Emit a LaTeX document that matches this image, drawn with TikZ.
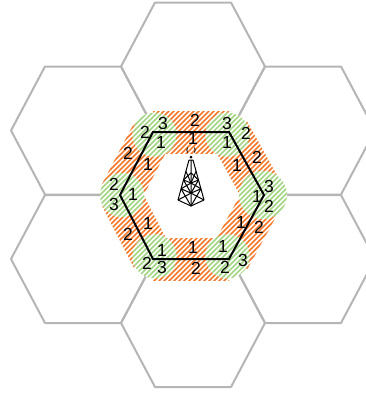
\documentclass[tikz,border=0pt]{standalone}
\usepackage{fontspec}
\usetikzlibrary{calc}
\setmainfont{Liberation Sans}
\definecolor{hatchorange}{HTML}{F5792A}
\definecolor{hatchgreen}{HTML}{A3D683}
\definecolor{cellgray}{HTML}{B5B5B5}
\tikzset{
  cell/.style={draw=cellgray,line width=2pt,line join=round},
  mainhex/.style={draw=black,line width=2pt,line join=miter},
  num/.style={font=\fontsize{17.5pt}{18pt}\selectfont,inner sep=0pt},
  towerline/.style={draw=black,line width=1pt,line join=round},
}
\newcommand{\hexat}[2]{(#1-38,#2-64) -- (#1+38,#2-64) -- (#1+72,#2) -- (#1+38,#2+64) -- (#1-38,#2+64) -- (#1-72,#2) -- cycle}
\newcommand{\hatchlines}[1]{\foreach \k in {0,5,...,500}{\draw[#1,line width=1.75pt] (\k-50,300) -- (\k+250,0);}}
% strip along an edge: half width #5
\newcommand{\stripclip}[5]{\clip ($(#1,#2)!#5pt!90:(#3,#4)$) -- ($(#3,#4)!#5pt!-90:(#1,#2)$) -- ($(#3,#4)!#5pt!90:(#1,#2)$) -- ($(#1,#2)!#5pt!-90:(#3,#4)$) -- cycle;}
\begin{document}
\begin{tikzpicture}[x=1pt,y=-1pt]
\useasboundingbox (0,0) rectangle (366,394);
% grey cells
\draw[cell] \hexat{193}{66.5};
\draw[cell] \hexat{83}{130.5};
\draw[cell] \hexat{83}{259};
\draw[cell] \hexat{193}{323};
\draw[cell] \hexat{303}{130.5};
\draw[cell] \hexat{303}{259};
% orange strips along the edges
\foreach \ax/\ay/\bx/\by in {153/132/229/132,229/132/264/195,264/195/229/259,229/259/153/259,153/259/120/195,120/195/153/132}{
  \begin{scope}
    \stripclip{\ax}{\ay}{\bx}{\by}{21}
    \fill[white] (0,0) rectangle (366,394);
    \hatchlines{hatchorange}
  \end{scope}
}
% green patches at the corners
\foreach \cx/\cy/\r in {154.5/134.6/22,227.5/134.6/22,263/195/24,227.5/256.4/22,154.5/256.4/22,122/195/22}{
  \begin{scope}
    \clip (\cx,\cy) circle (\r);
    \fill[white] (\cx,\cy) circle (\r);
    \hatchlines{hatchgreen}
  \end{scope}
}
% central hexagon
\draw[mainhex] (153,132) -- (229,132) -- (264,195) -- (229,259) -- (153,259) -- (120,195) -- cycle;
% tower
\coordinate (tal) at (189,160);
\coordinate (tar) at (193,160);
\coordinate (taf) at (191,160);
\coordinate (twl) at (178,200);
\coordinate (twr) at (204,200);
\coordinate (twf) at (191,206);
\draw[towerline] (tal) -- (twl) (tar) -- (twr) (taf) -- (twf) (tal) -- (tar);
\foreach \ta/\tb in {.28/.5,.5/.72,.72/1}{
  \draw[towerline] ($(tal)!\tb!(twl)$) -- ($(taf)!\tb!(twf)$) -- ($(tar)!\tb!(twr)$);
  \draw[towerline] ($(tal)!\ta!(twl)$) -- ($(taf)!\tb!(twf)$) -- ($(tar)!\ta!(twr)$);
  \draw[towerline] ($(tal)!\tb!(twl)$) -- ($(taf)!\ta!(twf)$) -- ($(tar)!\tb!(twr)$);
}
\fill (191,157) circle (1.5);
\draw[line width=.8pt] (187.5,152.5) arc (150:210:5) (194.5,152.5) arc (30:-30:5);
% numbers
\foreach \x/\y/\t in {
163/123/3,195/120/2,227/123/3,145/132/2,246/133/2,
161/142/1,193/138/1,227/142/1,
128/153/2,148/164/1,237/165/1,257/157/2,
114/184/2,133/194/1,114/204/3,
269/186/3,257/196/1,269/206/2,
148/223/1,128/234/2,241/222/1,259/227/2,
162/250/1,193/247/1,223/246/1,
147/263/2,162/267/3,196/268/2,225/267/2,243/260/3}{
  \node[num] at (\x,\y) {\t};
}
\end{tikzpicture}
\end{document}
